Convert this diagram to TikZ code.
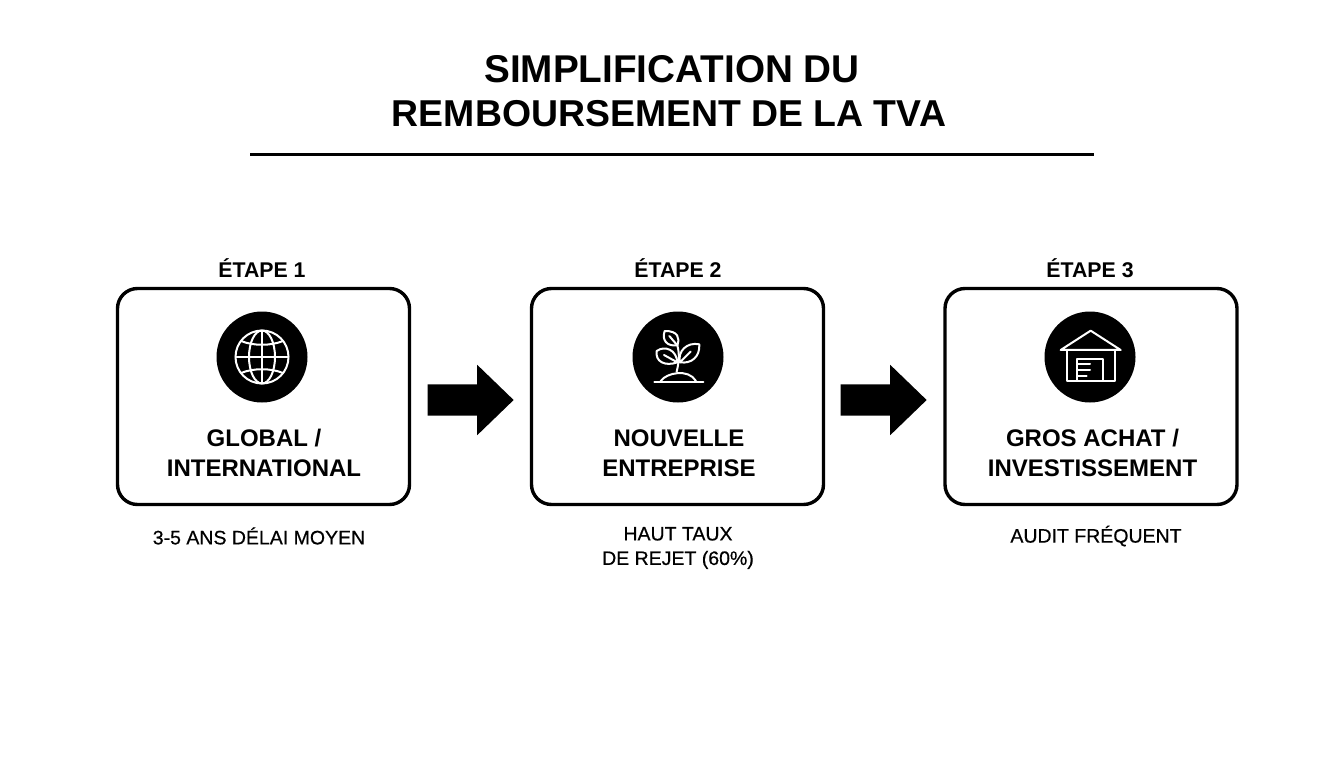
\documentclass[tikz,border=0pt]{standalone}
\usepackage{fontspec}
\usetikzlibrary{shapes.arrows}
\setmainfont{Liberation Sans}
\tikzset{
  card/.style={draw=black,line width=3.4pt,rounded corners=20pt,minimum width=292pt,minimum height=216pt,inner sep=0pt},
  disc/.style={circle,fill=black,minimum size=91pt,inner sep=0pt},
  steplabel/.style={font=\fontsize{21.3}{24}\selectfont\bfseries,anchor=center},
  cardtext/.style={font=\fontsize{24}{30}\selectfont\bfseries,align=center,anchor=center},
  note/.style={font=\fontsize{19.5}{24.5}\selectfont\addfontfeature{FakeBold=0.5},align=center,anchor=center},
  blockarrow/.style={single arrow,fill=black,minimum height=86pt,inner xsep=0pt,inner ysep=15.5pt,single arrow head extend=19.5pt,single arrow tip angle=88},
  icon/.style={draw=white,line width=2pt,line cap=round,line join=round},
  tiny/.style={x=0.3333pt,y=-0.3333pt}
}
\begin{document}
\begin{tikzpicture}[x=1pt,y=-1pt]
\useasboundingbox (0,0) rectangle (1344,768);
\fill[white] (0,0) rectangle (1344,768);
\node[align=center,font=\fontsize{37.4}{43.5}\selectfont\bfseries] (title) at (669,91) {{\fontsize{38.7}{43.5}\selectfont\hspace*{6pt}SIMPLIFICATION DU}\\REMBOURSEMENT DE LA TVA};
\coordinate (ruleL) at (250,154.5);
\coordinate (ruleR) at (1094,154.5);
\draw[line width=3pt] (ruleL) -- (ruleR);

\node[card] (c1) at (263.5,396.5) {};
\node[card] (c2) at (677.5,396.5) {};
\node[card] (c3) at (1091,396.5) {};

\node[steplabel] (s1) at (262,268) {ÉTAPE 1};
\node[steplabel] (s2) at (678,268) {ÉTAPE 2};
\node[steplabel] (s3) at (1090,268) {ÉTAPE 3};

\node[disc] (d1) at (262,357) {};
\node[disc] (d2) at (678,357) {};
\node[disc] (d3) at (1090,357) {};

\node[cardtext] (t1) at (264,453) {GLOBAL /\\INTERNATIONAL};
\node[cardtext] (t2) at (679,453) {NOUVELLE\\ENTREPRISE};
\node[cardtext] (t3) at (1092.5,453) {GROS ACHAT /\\INVESTISSEMENT};

\node[note] (n1) at (259,536) {3-5 ANS DÉLAI MOYEN};
\node[note] (n2) at (678,548) {HAUT TAUX\\DE REJET (60\%)};
\node[note] (n3) at (1096,536) {AUDIT FRÉQUENT};

\node[blockarrow] (a1) at (462.5,400) {};
\node[blockarrow] (a2) at (875.5,400) {};

% globe
\begin{scope}[shift={(262,357)}]
  \draw[icon] (0,0) circle (26.5);
  \draw[icon] (0,-26.5) -- (0,26.5) (-26.5,0) -- (26.5,0);
  \draw[icon] (0,0) ellipse (13 and 26.5);
  \draw[icon] (-21,-16) .. controls (-9,-11) and (9,-11) .. (21,-16);
  \draw[icon] (-21,16) .. controls (-9,11) and (9,11) .. (21,16);
\end{scope}

% sprout
\begin{scope}[shift={(620,300)},tiny]
  \draw[icon] (103,245) -- (250,245);
  \draw[icon] (122,243) .. controls (140,218) and (205,205) .. (228,243);
  \draw[icon] (170,215) .. controls (176,190) and (180,165) .. (172,136);
  \draw[icon] (134,93) .. controls (175,92) and (180,115) .. (172,136) .. controls (140,140) and (125,120) .. (134,93) -- cycle;
  \draw[icon] (148,108) -- (172,136);
  \draw[icon] (110,153) .. controls (135,135) and (170,150) .. (172,187) .. controls (135,200) and (105,185) .. (110,153) -- cycle;
  \draw[icon] (132,165) -- (172,187);
  \draw[icon] (238,133) .. controls (200,125) and (172,155) .. (180,187) .. controls (215,192) and (240,170) .. (238,133) -- cycle;
  \draw[icon] (212,155) -- (180,187);
\end{scope}

% warehouse
\begin{scope}[shift={(1030,300)},tiny]
  \draw[icon] (92,150) -- (182,92) -- (272,150) -- cycle;
  \draw[icon] (110,150) -- (110,242) -- (255,242) -- (255,150);
  \draw[icon] (140,240) -- (140,178) -- (218,178) -- (218,240);
  \draw[icon] (145,192) -- (180,192);
  \draw[icon] (145,210) -- (180,210);
  \draw[icon] (145,228) -- (170,228);
\end{scope}
\end{tikzpicture}
\end{document}
